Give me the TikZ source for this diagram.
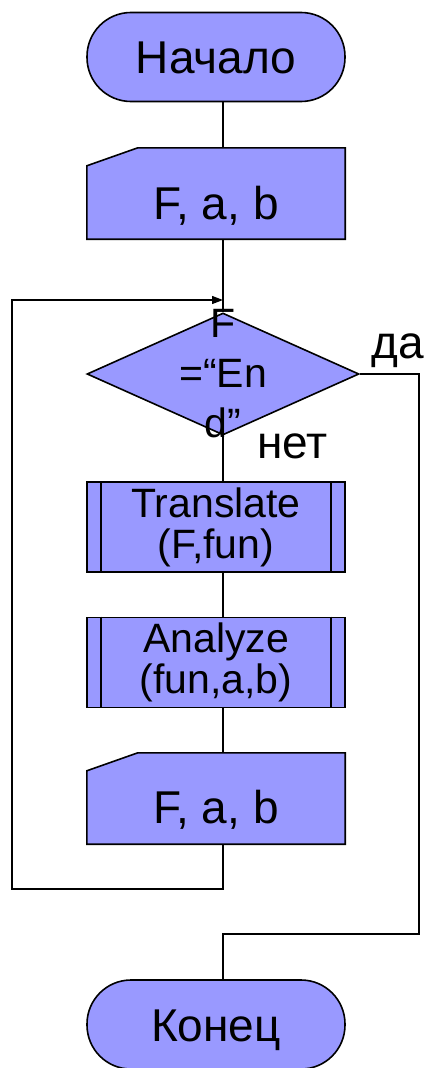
\documentclass[tikz,border=0pt]{standalone}
\usepackage{fontspec}
\setmainfont{Liberation Sans}
\usetikzlibrary{shapes.geometric,arrows.meta}
\definecolor{boxfill}{RGB}{153,153,255}
\begin{document}
\begin{tikzpicture}[x=1pt,y=-1pt,
  shapeline/.style={draw=black,line width=1.6pt,fill=boxfill},
  sideline/.style={draw=black,line width=1.6pt},
  conn/.style={draw=black,line width=1.3pt},
  term/.style={shapeline,rectangle,rounded corners=44pt,minimum width=258pt,minimum height=89pt,inner sep=0pt,font=\fontsize{46}{55}\selectfont,text height=33pt,text depth=0pt},
  holder/.style={rectangle,minimum width=258pt,minimum height=91pt,inner sep=0pt},
  iotext/.style={font=\fontsize{46}{55}\selectfont,inner sep=0pt,text height=33pt,text depth=0pt},
  proc/.style={shapeline,rectangle,minimum width=258pt,minimum height=90pt,inner sep=0pt,align=center,font=\fontsize{41}{41}\selectfont},
  dec/.style={shapeline,diamond,minimum width=272pt,minimum height=122pt,inner sep=0pt},
  dectext/.style={align=center,inner sep=0pt,font=\fontsize{41}{50}\selectfont},
  lbl/.style={inner sep=0pt,font=\fontsize{46}{54}\selectfont,anchor=base west}
]
\useasboundingbox (0,0) rectangle (427,1068);
\coordinate (axis) at (223,0);

% shapes
\node[term] (start) at (216,57) {Начало};
\node[holder] (in1) at (216,193.5) {};
\draw[shapeline] (in1.south west) -- ([yshift=-18pt]in1.north west) -- ([xshift=51pt]in1.north west) -- (in1.north east) -- (in1.south east) -- cycle;
\node[iotext] (in1t) at (216,203) {F, a, b};
\node[dec] (cond) at (223,374) {};
\node[proc] (tr) at (216,527) {Translate\\(F,fun)};
\draw[sideline] ([xshift=15pt]tr.north west) -- ([xshift=15pt]tr.south west);
\draw[sideline] ([xshift=-15pt]tr.north east) -- ([xshift=-15pt]tr.south east);
\node[proc] (an) at (216,662.5) {Analyze\\(fun,a,b)};
\draw[sideline] ([xshift=15pt]an.north west) -- ([xshift=15pt]an.south west);
\draw[sideline] ([xshift=-15pt]an.north east) -- ([xshift=-15pt]an.south east);
\node[holder] (in2) at (216,798.5) {};
\draw[shapeline] (in2.south west) -- ([yshift=-18pt]in2.north west) -- ([xshift=51pt]in2.north west) -- (in2.north east) -- (in2.south east) -- cycle;
\node[iotext] (in2t) at (216,806.5) {F, a, b};
\node[term] (stop) at (216,1024.5) {Конец};

% connectors
\coordinate (loopbl) at (12,889);
\coordinate (looptop) at (223,300);
\coordinate (yesr) at (419,934);
\draw[conn] (axis |- start.south) -- (axis |- in1.north);
\draw[conn] (axis |- in1.south) -- (cond.north);
\draw[conn] (cond.south) -- (axis |- tr.north);
\draw[conn] (axis |- tr.south) -- (axis |- an.north);
\draw[conn] (axis |- an.south) -- (axis |- in2.north);
\draw[conn,-{Triangle[length=11pt,width=8pt]}] (axis |- in2.south) -- (axis |- loopbl) -- (loopbl) -- (loopbl |- looptop) -- (looptop);
\draw[conn] (cond.east) -| (yesr) -- (axis |- yesr) -- (axis |- stop.north);

% texts
\node[dectext] (condt) at (223,374) {F\\=“En\\d”};
\node[lbl] (yes) at (371,358) {да};
\node[lbl] (no) at (257,458) {нет};
\end{tikzpicture}
\end{document}
